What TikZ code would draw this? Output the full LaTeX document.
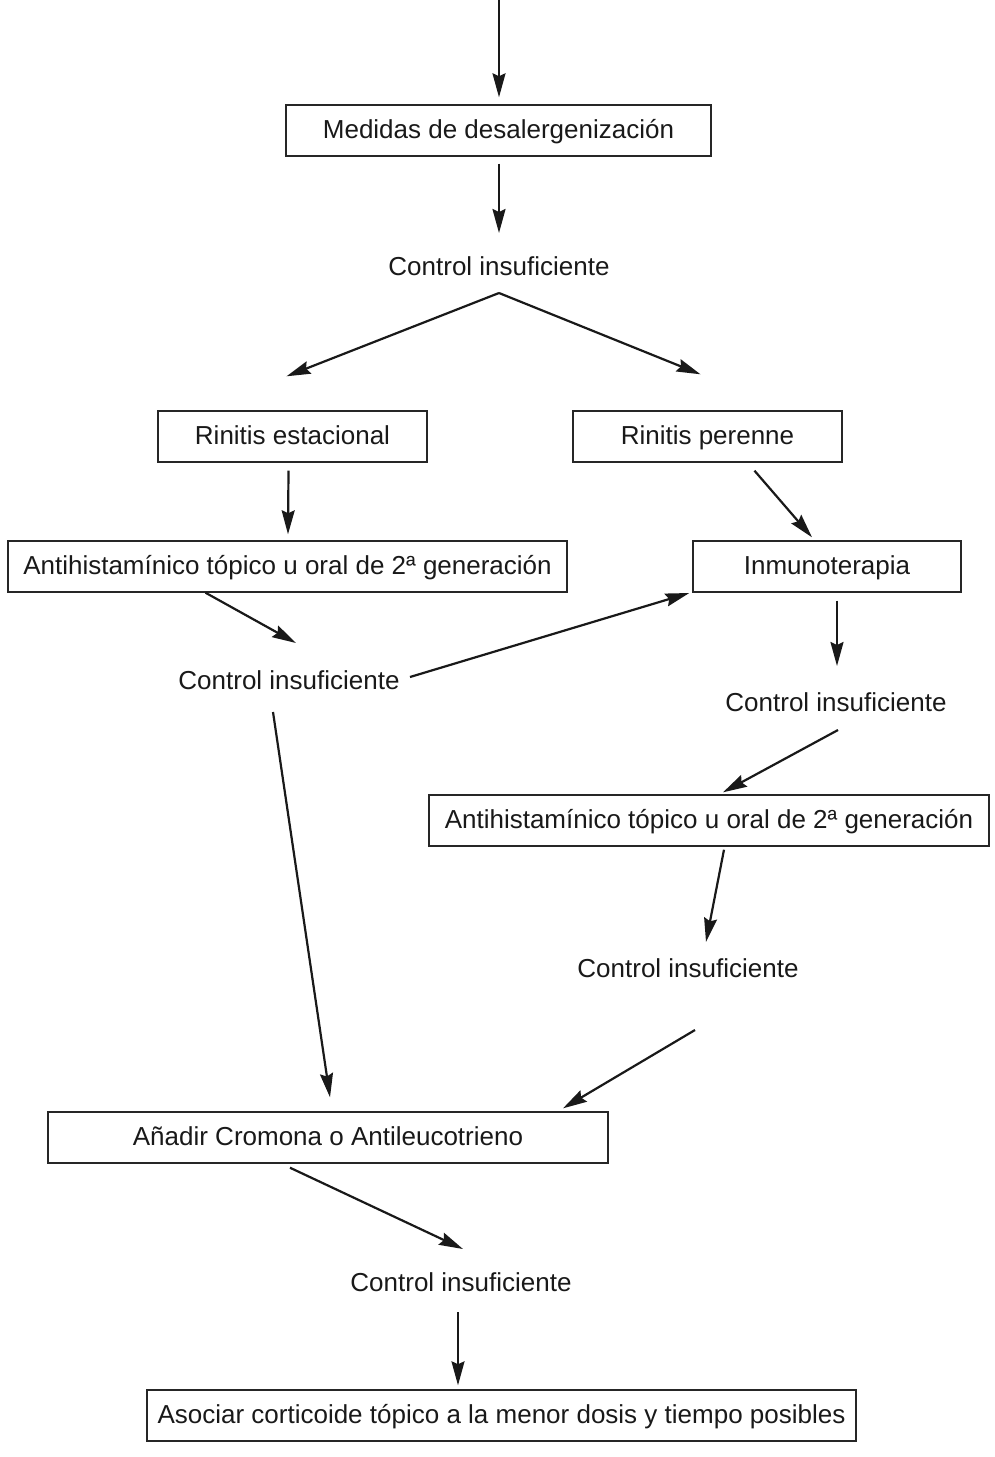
\documentclass[tikz,border=0pt]{standalone}
\usepackage{fontspec}
\setmainfont{Liberation Sans}
\usetikzlibrary{arrows.meta,calc}
\begin{document}
\begin{tikzpicture}[x=1pt,y=-1pt,
  txt/.style={font=\fontsize{26}{30}\selectfont, text=black!90},
  box/.style={txt, draw=black!85, line width=1.4pt, minimum height=51pt, inner sep=0pt, text height=19pt, text depth=4pt},
  lbl/.style={txt, inner sep=0pt},
  arr/.style={line width=2.2pt, black!90, -{Stealth[length=24pt,width=13pt,inset=3pt]}}]
\useasboundingbox (0,0) rectangle (995,1457);
\node[box, minimum width=425pt] (med) at (498.5,130.5) {Medidas de desalergenización};
\node[lbl] (ci1) at (499,266) {Control insuficiente};
\node[box, minimum width=269pt] (rs) at (292.5,436.5) {Rinitis estacional};
\node[box, minimum width=269pt] (rp) at (707.5,436.5) {Rinitis perenne};
\node[box, minimum width=559pt] (ah1) at (287.5,566.5) {Antihistamínico tópico u oral de 2ª generación};
\node[box, minimum width=268pt] (im) at (827,566.5) {Inmunoterapia};
\node[lbl] (ci2) at (289,680) {Control insuficiente};
\node[lbl] (ci3) at (836,702) {Control insuficiente};
\node[box, minimum width=560pt] (ah2) at (709,820.5) {Antihistamínico tópico u oral de 2ª generación};
\node[lbl] (ci4) at (688,968) {Control insuficiente};
\node[box, minimum width=560pt] (an) at (328,1137.5) {Añadir Cromona o Antileucotrieno};
\node[lbl] (ci5) at (461,1282) {Control insuficiente};
\node[box, minimum width=709pt] (as) at (501.5,1415.5) {Asociar corticoide tópico a la menor dosis y tiempo posibles};
\coordinate (start) at (499,0);
\coordinate (apex) at ($(ci1.center)+(0,27)$);
\draw[arr] (start) -- ($(med.north)+(0.5,-7)$);
\draw[arr] ($(med.south)+(0.5,7)$) -- ($(ci1.center)+(0,-33)$);
\draw[arr] (apex) -- ($(rs.north)+(-6,-34)$);
\draw[arr] (apex) -- ($(rp.north)+(-7,-36)$);
\draw[arr] ($(rs.south)+(-4,8)$) -- ($(ah1.north)+(0.5,-6)$);
\draw[arr] ($(rp.south)+(47,8)$) -- ($(im.north)+(-15,-3)$);
\draw[arr] ($(ah1.south)+(-82,0)$) -- ($(ci2.center)+(7,-37)$);
\draw[arr] ($(ci2.center)+(121,-3)$) -- ($(im.west)+(-3,26.5)$);
\draw[arr] ($(im.south)+(10,8)$) -- ($(ci3.center)+(1,-36)$);
\draw[arr] ($(ci3.center)+(2,28)$) -- ($(ah2.north)+(14,-2)$);
\draw[arr] ($(ah2.south)+(15,3)$) -- ($(ci4.center)+(18,-26)$);
\draw[arr] ($(ci2.center)+(-16,32)$) -- ($(an.north)+(2,-14)$);
\draw[arr] ($(ci4.center)+(7,62)$) -- ($(an.north)+(235,-3)$);
\draw[arr] ($(an.south)+(-38,4)$) -- ($(ci5.center)+(2,-33)$);
\draw[arr] ($(ci5.center)+(-3,30)$) -- ($(as.north)+(-43.5,-4)$);
\end{tikzpicture}
\end{document}
